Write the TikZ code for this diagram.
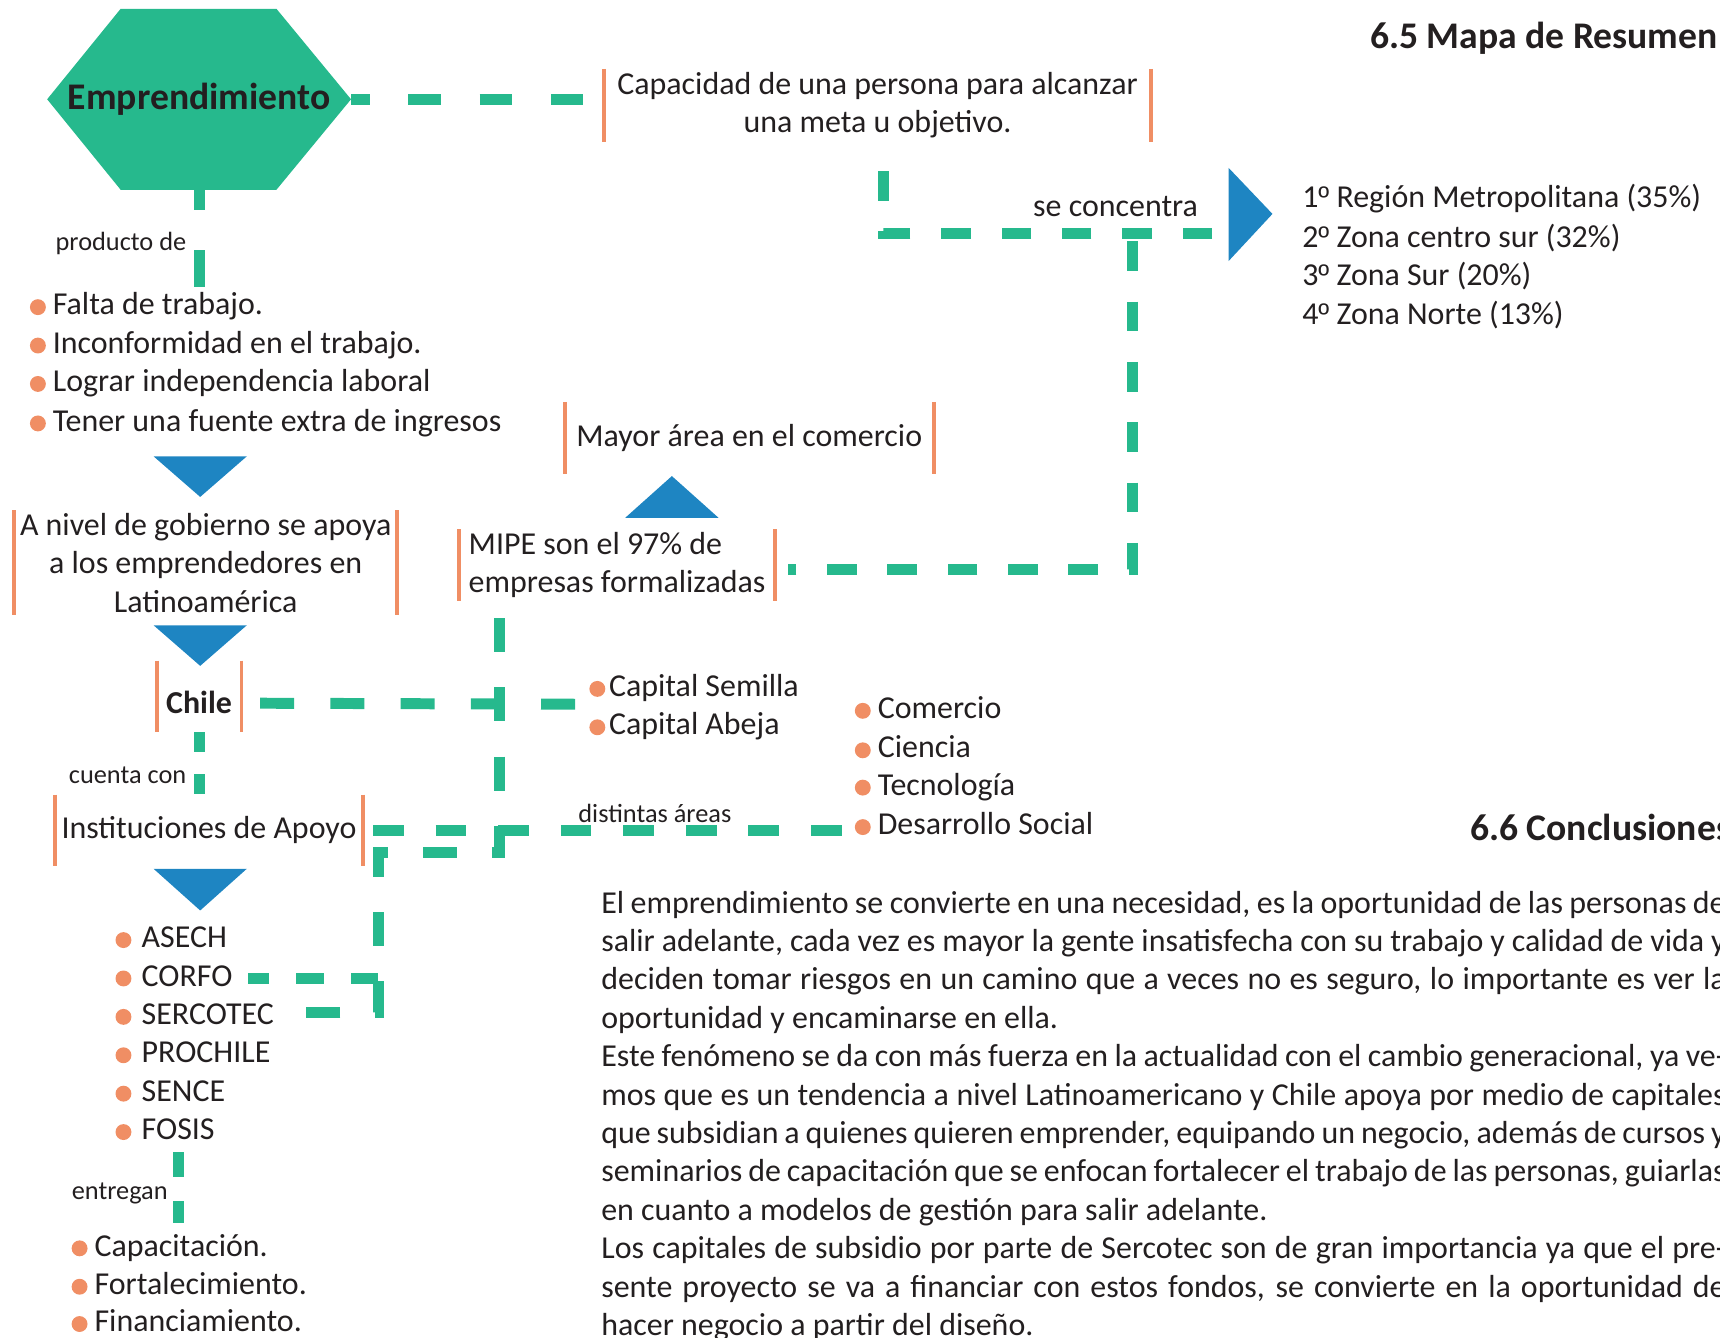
\documentclass[tikz,border=0pt]{standalone}
\usepackage{fontspec}
\setmainfont{Carlito}
\newfontfamily\ordfont{Liberation Sans}
\definecolor{mgreen}{RGB}{38,185,141}
\definecolor{mblue}{RGB}{30,133,194}
\definecolor{morange}{RGB}{240,142,100}
\definecolor{mtext}{RGB}{35,31,32}
\newcommand{\txtsize}{\fontsize{29.1pt}{35pt}\selectfont}
\newcommand{\lblsize}{\fontsize{24pt}{29pt}\selectfont}
\newcommand{\ttlsize}{\fontsize{34.3pt}{40pt}\selectfont}
\newcommand{\jline}[1]{\makebox[1025pt][s]{#1}}
\newcommand{\ordo}{{\ordfont\fontsize{27pt}{35pt}\selectfont º}}

\begin{document}
\begin{tikzpicture}[x=1pt,y=-1pt,
  every node/.style={inner sep=0pt, text=mtext, font=\txtsize},
  link/.style={mgreen, line width=10pt, dash pattern=on 29pt off 29pt},
  bar/.style={morange, line width=3.5pt},
  barbox/.style={align=center, append after command={(\tikzlastnode.north west) edge[bar] (\tikzlastnode.south west) (\tikzlastnode.north east) edge[bar] (\tikzlastnode.south east)}},
  dot/.style={circle, fill=morange, minimum size=14.5pt, inner sep=0pt},
  item/.style={anchor=west, text height=20pt, text depth=6pt, label={[dot, xshift=-#1]left:{}}},
  item/.default=6pt,
  lbl/.style={font=\lblsize, anchor=east},
  ttl/.style={font=\bfseries\ttlsize}]
\clip (0,0) rectangle (1568,1219);
\useasboundingbox (0,0) rectangle (1568,1219);

% titulos
\node[ttl, anchor=east] (resumen) at (1566,35) {6.5 Mapa de Resumen};
\node[ttl, anchor=west] (concl) at (1340,754) {6.6 Conclusiones};

% hexagono
\fill[mgreen] (43,90.5) -- (110,8) -- (252,8) -- (320,90.5) -- (252,173) -- (110,173) -- cycle;
\node[ttl, minimum width=277pt, minimum height=165pt] (emp) at (181.5,90.5) {Emprendimiento};

% cajas
\node[barbox, minimum width=498pt, minimum height=66pt] (cap) at (800,96) {Capacidad de una persona para alcanzar\\una meta u objetivo.};
\node[barbox, minimum width=336pt, minimum height=65pt] (mayor) at (683,399) {Mayor área en el comercio};
\node[barbox, minimum width=349pt, minimum height=95pt] (gob) at (187.5,513) {A nivel de gobierno se apoya\\a los emprendedores en\\Latinoamérica};
\node[barbox, align=left, minimum width=287pt, minimum height=65pt] (mipe) at (562.5,515) {MIPE son el 97\% de\\empresas formalizadas};
\node[barbox, font=\bfseries\txtsize, text height=31pt, text depth=0pt, minimum width=77pt, minimum height=65pt] (chile) at (181.5,635) {Chile};
\node[barbox, minimum width=281pt, minimum height=65pt] (inst) at (190.5,757) {Instituciones de Apoyo};

% triangulos
\fill[mblue] (140,416) -- (225,416) -- (182.5,453) -- cycle;
\fill[mblue] (140,570) -- (225,570) -- (182.5,607) -- cycle;
\fill[mblue] (140,792) -- (225,792) -- (182.5,830) -- cycle;
\fill[mblue] (570,472) -- (655,472) -- (612.5,434) -- cycle;
\fill[mblue] (1120,153) -- (1160,195) -- (1120,238) -- cycle;

% listas
\node[item] (falta) at (48,280) {Falta de trabajo.};
\node[item] (inconf) at (48,315) {Inconformidad en el trabajo.};
\node[item] (lograr) at (48,350) {Lograr independencia laboral};
\node[item] (fuente) at (48,386) {Tener una fuente extra de ingresos};

\node[item=3pt] (semilla) at (555,628) {Capital Semilla};
\node[item=3pt] (abeja) at (555,663) {Capital Abeja};

\node[item] (comercio) at (800,648) {Comercio};
\node[item] (ciencia) at (800,684) {Ciencia};
\node[item] (tecno) at (800,718) {Tecnología};
\node[item] (social) at (800,754) {Desarrollo Social};

\node[item=9pt] (asech) at (129,857) {ASECH};
\node[item=9pt] (corfo) at (129,892) {CORFO};
\node[item=9pt] (sercotec) at (129,927) {SERCOTEC};
\node[item=9pt] (prochile) at (129,962) {PROCHILE};
\node[item=9pt] (sence) at (129,997) {SENCE};
\node[item=9pt] (fosis) at (129,1032) {FOSIS};

\node[item] (capac) at (86,1138) {Capacitación.};
\node[item] (fortal) at (86,1173) {Fortalecimiento.};
\node[item] (financ) at (86,1207) {Financiamiento.};

\node[anchor=west] (reg1) at (1187,181) {1\ordo{} Región Metropolitana (35\%)};
\node[anchor=west] (reg2) at (1187,217) {2\ordo{} Zona centro sur (32\%)};
\node[anchor=west] (reg3) at (1187,252) {3\ordo{} Zona Sur (20\%)};
\node[anchor=west] (reg4) at (1187,287) {4\ordo{} Zona Norte (13\%)};

% etiquetas
\node[lbl] (producto) at (170,222) {producto de};
\node[lbl] (cuenta) at (170,707) {cuenta con};
\node[lbl] (entregan) at (153,1088) {entregan};
\node[lbl, anchor=center] (distintas) at (597,742) {distintas áreas};
\node (concentra) at (1017,188) {se concentra};

% conectores
\coordinate (conc) at (1105,213);
\coordinate (zona) at (1032,213);
\coordinate (capital) at (527,642);
\coordinate (areas) at (775,757);
\coordinate (cruce) at (455,777);
\coordinate (esquina) at (345,923);
\draw[link, dash pattern=on 30pt off 35pt, dash phase=13pt, shorten >=19pt] (emp.east) -- (emp.east -| cap.west);
\draw[link, dash pattern=on 27pt off 28pt, shorten >=6pt] (conc) -| ([xshift=5pt]cap.south);
\draw[link, dash pattern=on 27pt off 28pt, dash phase=48pt, shorten >=12pt] (zona) |- ([yshift=-4pt]mipe.east);
\draw[link, dash pattern=on 18pt off 37pt on 34pt off 10pt, shorten >=5pt] (emp.south) -- (emp.south |- falta.north);
\draw[link, dash pattern=on 31pt off 33pt, shorten <=17pt] ([yshift=-6pt]chile.east) -- (capital);
\draw[link, dash pattern=on 18pt off 20pt] (chile.south) -- (chile.south |- inst.north);
\draw[link, dash pattern=on 28pt off 29pt, shorten <=9pt] (inst.east) -- (areas);
\draw[link, dash pattern=on 31pt off 32pt, shorten <=16pt, shorten >=12pt] (mipe.south -| cruce) -- (cruce) -| (esquina) -- (esquina -| sercotec.east);
\draw[link, dash pattern=on 25pt off 25pt, shorten >=14pt] (esquina |- corfo) -- (corfo.east);
\draw[link, dash pattern=on 23pt off 22pt, shorten <=5pt, shorten >=10pt] (fosis.south) -- (fosis.south |- capac.north);

% texto de conclusiones
\node[anchor=north west, align=left] (texto) at (548,812) {%
\jline{El emprendimiento se convierte en una necesidad, es la oportunidad de las personas de}\\
\jline{salir adelante, cada vez es mayor la gente insatisfecha con su trabajo y calidad de vida y}\\
\jline{deciden tomar riesgos en un camino que  a veces no es seguro, lo importante es ver la}\\
oportunidad y encaminarse en ella.\\
\jline{Este fenómeno se da con más fuerza en la actualidad con el cambio generacional, ya ve-}\\
\jline{mos que es un tendencia a nivel Latinoamericano y Chile apoya por medio de capitales}\\
\jline{que subsidian a quienes quieren emprender, equipando un negocio, además de cursos y}\\
\jline{seminarios de capacitación que se enfocan fortalecer el trabajo de las personas, guiarlas}\\
en cuanto a modelos de gestión para salir adelante.\\
\jline{Los capitales de subsidio por parte de Sercotec son de gran importancia ya que el pre-}\\
\jline{sente proyecto se va a financiar con estos fondos, se convierte en la oportunidad de}\\
hacer negocio a partir del diseño.};
\end{tikzpicture}
\end{document}
